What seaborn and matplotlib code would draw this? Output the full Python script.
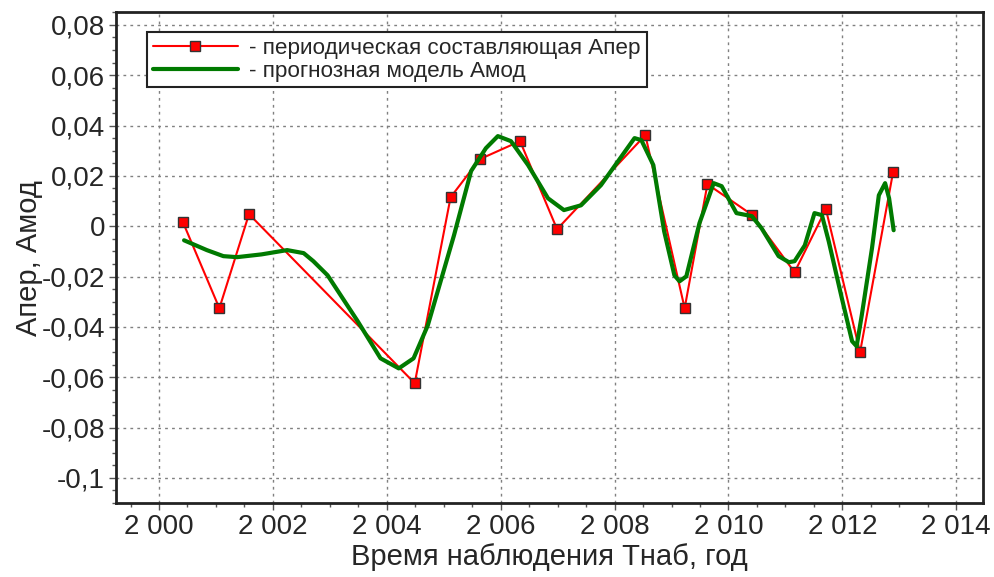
import numpy as np
import pandas as pd
import matplotlib
matplotlib.use("Agg")
import matplotlib.pyplot as plt
import seaborn as sns
from matplotlib.ticker import FuncFormatter, MultipleLocator

# periodic component (red squares)
t_per = [2000.42, 2001.06, 2001.58, 2004.49, 2005.12, 2005.63, 2006.34, 2006.99,
         2008.54, 2009.23, 2009.63, 2010.42, 2011.16, 2011.71, 2012.31, 2012.89]
a_per = [0.0016, -0.0326, 0.0048, -0.0624, 0.0115, 0.0266, 0.0338, -0.0012,
         0.0362, -0.0326, 0.0167, 0.0044, -0.0183, 0.0068, -0.0501, 0.0215]

# forecast model (green curve)
t_mod = [2000.44, 2000.84, 2001.13, 2001.37, 2001.80, 2002.25, 2002.54, 2002.71,
         2002.96, 2003.49,
         2003.89, 2004.21, 2004.47, 2004.72, 2005.18, 2005.48, 2005.74, 2005.95,
         2006.18, 2006.48, 2006.83, 2007.11, 2007.41, 2007.76, 2008.06, 2008.35,
         2008.47, 2008.68, 2008.87, 2009.05, 2009.14, 2009.26, 2009.49, 2009.74,
         2009.88, 2010.14, 2010.41, 2010.58, 2010.88, 2011.06, 2011.16, 2011.34,
         2011.51, 2011.64, 2011.76, 2011.99, 2012.17, 2012.25, 2012.34, 2012.52,
         2012.64, 2012.75, 2012.82, 2012.90]
a_mod = [-0.0056, -0.0095, -0.0119, -0.0123, -0.0112, -0.0095, -0.0107, -0.0139,
         -0.0195, -0.0378,
         -0.0525, -0.0565, -0.0525, -0.0394, -0.0036, 0.0219, 0.0310, 0.0358,
         0.0338, 0.0243, 0.0111, 0.0064, 0.0083, 0.0163, 0.0258, 0.0350,
         0.0342, 0.0243, -0.0020, -0.0195, -0.0219, -0.0199, 0.0012, 0.0171,
         0.0159, 0.0052, 0.0040, -0.0008, -0.0119, -0.0143, -0.0139, -0.0076,
         0.0052, 0.0044, -0.0060, -0.0286, -0.0457, -0.0477, -0.0354, -0.0087,
         0.0123, 0.0171, 0.0111, -0.0016]

df_per = pd.DataFrame({"t": t_per, "a": a_per})
df_mod = pd.DataFrame({"t": t_mod, "a": a_mod})

sns.set_theme(style="ticks")
plt.rcParams['font.family'] = ['Liberation Sans', 'DejaVu Sans']

fig = plt.figure(figsize=(9.95, 5.77), dpi=100)
ax = fig.add_axes([0.1166, 0.1282, 0.8714, 0.8505])

sns.lineplot(data=df_per, x="t", y="a", ax=ax, color="#ff0000", lw=1.5,
             marker="s", markersize=7, markerfacecolor="#ff0000",
             markeredgecolor="#333333", markeredgewidth=1.0,
             sort=False, estimator=None, zorder=3,
             label="- периодическая составляющая Апер")
sns.lineplot(data=df_mod, x="t", y="a", ax=ax, color="#007a00", lw=3,
             sort=False, estimator=None, zorder=4,
             label="- прогнозная модель Амод")

ax.set_xlim(1999.245, 2014.47)
ax.set_ylim(-0.11, 0.085)
ax.xaxis.set_major_locator(MultipleLocator(2))
ax.xaxis.set_minor_locator(MultipleLocator(0.5))
ax.yaxis.set_major_locator(MultipleLocator(0.02))
ax.yaxis.set_minor_locator(MultipleLocator(0.005))


def fmt_y(v, pos):
    v = round(v, 4)
    if abs(v) < 1e-9:
        return "0"
    return f"{v:g}".replace(".", ",")


def fmt_x(v, pos):
    n = int(round(v))
    return f"{n // 1000} {n % 1000:03d}"


ax.yaxis.set_major_formatter(FuncFormatter(fmt_y))
ax.xaxis.set_major_formatter(FuncFormatter(fmt_x))

ax.grid(True, which="major", color="#808080", linestyle=(0, (2, 3)), lw=1.0)
ax.tick_params(axis="both", which="major", labelsize=20, length=5, width=1,
               direction="out", color="#555555", pad=3)
ax.tick_params(axis="both", which="minor", length=3, width=1, color="#555555")
for s in ax.spines.values():
    s.set_linewidth(2)
    s.set_color("#222222")

ax.set_xlabel("Время наблюдения Тнаб, год", fontsize=21, labelpad=2)
ax.set_ylabel("Апер, Амод", fontsize=21, labelpad=-1)

leg = ax.legend(loc="upper left", bbox_to_anchor=(0.0358, 0.96), borderaxespad=0,
                fontsize=16.2, handlelength=3.8, fancybox=False, framealpha=1,
                edgecolor="#222222", borderpad=0.25, labelspacing=0.1,
                handletextpad=0.5)
leg.get_frame().set_linewidth(1.5)

fig.savefig("out.png", dpi=100)
